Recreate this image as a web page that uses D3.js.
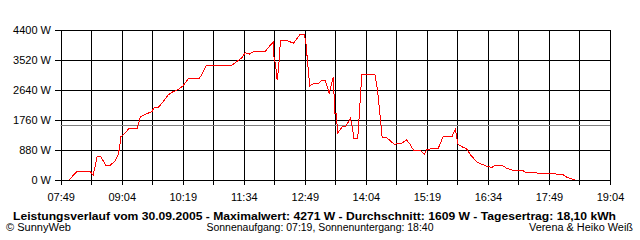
<!DOCTYPE html>
<html>
<head>
<meta charset="utf-8">
<script src="https://cdn.jsdelivr.net/npm/d3@7"></script>
<style>
  body { margin: 0; background: #fff; }
  svg { display: block; font-family: "Liberation Sans", Arial, sans-serif; }
  .grid line { stroke: #000; shape-rendering: crispEdges; }
  .grid text { font-size: 11px; fill: #000; }
</style>
</head>
<body>
<script>
var svgWidth = 640;
var svgHeight = 240;

// data: time of day and power in W
var times = ["07:59","08:09","08:25","08:29","08:34","08:38","08:44","08:50","08:56","08:59",
  "09:01","09:03","09:08","09:13","09:23","09:27","09:33","09:41","09:44","09:49",
  "09:55","10:01","10:07","10:14","10:19","10:26","10:39","10:42","10:48","11:19",
  "11:25","11:31","11:36","11:41","11:46","12:00","12:06","12:10","12:11","12:13",
  "12:15","12:17","12:19","12:28","12:35","12:43","12:48","12:50","12:55","13:00",
  "13:06","13:10","13:14","13:19","13:22","13:24","13:25","13:26","13:28","13:29",
  "13:35","13:39","13:45","13:48","13:49","13:54","13:56","13:59","14:15","14:18",
  "14:20","14:22","14:24","14:29","14:40","14:42","14:48","14:54","14:58","15:03",
  "15:11","15:16","15:19","15:33","15:39","15:50","15:54","15:57","16:02","16:08",
  "16:13","16:21","16:27","16:33","16:39","16:43","16:51","16:57","17:04","17:16",
  "17:20","17:32","17:36","17:57","18:00","18:07","18:11","18:17","18:21"];
var watts = [0,245,245,147,704,704,440,440,557,704,
  900,1270,1370,1517,1517,1857,1927,2003,2133,2133,
  2297,2493,2590,2660,2757,2971,2971,3080,3359,3359,
  3470,3570,3734,3696,3763,3763,3939,4039,3617,3373,
  2933,3344,4086,4086,4010,4271,4271,4107,2757,2836,
  2836,2933,2933,2543,2836,3012,2443,1956,1956,1370,
  1563,1563,1810,1467,1223,1223,1956,3100,3100,2699,
  2250,1760,1252,1252,1027,1076,1076,1173,1056,859,
  859,763,900,930,1282,1282,1487,1056,977,909,
  725,513,460,396,372,440,440,343,293,293,
  226,226,191,191,147,147,79,29,0];

var yTicks = [0, 880, 1760, 2640, 3520, 4400];
var xStart = "07:49";
var xEnd = "19:04";
var avgW = 1609;

var title = "Leistungsverlauf vom 30.09.2005 - Maximalwert: 4271 W - Durchschnitt: 1609 W - Tagesertrag: 18,10 kWh";
var footLeft = "\u00A9 SunnyWeb";
var footMid = "Sonnenaufgang: 07:19, Sonnenuntergang: 18:40";
var footRight = "Verena & Heiko Wei\u00DF";

var parseTime = d3.timeParse("%Y-%m-%d %H:%M");
function toDate(t) { return parseTime("2005-09-30 " + t); }

var data = times.map(function(t, i) { return { time: toDate(t), w: watts[i] }; });

var svg = d3.select("body")
  .append("svg")
  .attr("width", svgWidth)
  .attr("height", svgHeight);

var t0 = toDate(xStart);
var t1 = toDate(xEnd);

var xScale = d3.scaleTime()
  .domain([t0, t1])
  .range([60.7, 610]);

var yScale = d3.scaleLinear()
  .domain([0, 4400])
  .range([180, 30]);

// gridlines every 37.5 minutes, labels on every second one
var xGrid = d3.range(19).map(function(i) { return new Date(+t0 + i * 37.5 * 60000); });
var fmt = d3.timeFormat("%H:%M");

svg.append("g")
  .attr("class", "grid")
  .attr("transform", "translate(0, 185)")
  .call(d3.axisBottom(xScale)
    .tickValues(xGrid)
    .tickSize(-155)
    .tickPadding(6)
    .tickFormat(function(d, i) { return i % 2 === 0 ? fmt(d) : ""; }))
  .call(function(g) { g.select(".domain").remove(); })
  .selectAll("text")
  .attr("y", 8);

svg.append("g")
  .attr("class", "grid")
  .attr("transform", "translate(55, 0)")
  .call(d3.axisLeft(yScale)
    .tickValues(yTicks)
    .tickSize(-555)
    .tickPadding(4)
    .tickFormat(function(d) { return d + " W"; }))
  .call(function(g) { g.select(".domain").remove(); });

// average line
svg.append("line")
  .attr("x1", xScale(t0))
  .attr("x2", xScale(t1))
  .attr("y1", Math.round(yScale(avgW)) + 0.5)
  .attr("y2", Math.round(yScale(avgW)) + 0.5)
  .attr("stroke", "#808080")
  .attr("stroke-width", 1);

var line = d3.line()
  .x(function(d) { return xScale(d.time); })
  .y(function(d) { return yScale(d.w); });

svg.append("path")
  .datum(data)
  .attr("d", line)
  .attr("fill", "none")
  .attr("stroke", "#ff0000")
  .attr("stroke-width", 1)
  .attr("shape-rendering", "crispEdges");

svg.append("text")
  .attr("x", 13)
  .attr("y", 220)
  .attr("font-size", "11px")
  .attr("font-weight", "bold")
  .attr("textLength", 603)
  .attr("lengthAdjust", "spacingAndGlyphs")
  .text(title);

var foot = svg.append("g")
  .attr("font-size", "10px")
  .attr("transform", "translate(0, 231)");

foot.append("text")
  .attr("x", 6)
  .attr("textLength", 65)
  .attr("lengthAdjust", "spacingAndGlyphs")
  .text(footLeft);

foot.append("text")
  .attr("x", 206.5)
  .attr("textLength", 227)
  .attr("lengthAdjust", "spacingAndGlyphs")
  .text(footMid);

foot.append("text")
  .attr("x", 529)
  .attr("textLength", 104)
  .attr("lengthAdjust", "spacingAndGlyphs")
  .text(footRight);
</script>
</body>
</html>
